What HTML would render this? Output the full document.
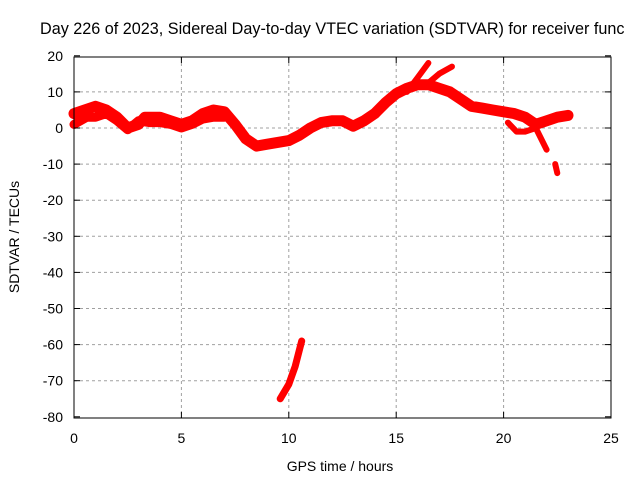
<!DOCTYPE html>
<html><head><meta charset="utf-8"><style>
html,body{margin:0;padding:0;background:#fff;overflow:hidden}
svg{display:block;font-family:"Liberation Sans",sans-serif}
</style></head><body>
<svg id="c" width="640" height="480">
<text x="40" y="34" font-size="16.2">Day 226 of 2023, Sidereal Day-to-day VTEC variation (SDTVAR) for receiver func</text>
<g id="grid"></g>
<g id="marks"></g>
<rect x="74" y="57" width="537" height="361" fill="none" stroke="#000"/>
<g id="ticks"></g>
<text x="340" y="471" font-size="14" text-anchor="middle">GPS time / hours</text>
<text transform="translate(19,237) rotate(-90)" font-size="14" text-anchor="middle">SDTVAR / TECUs</text>
</svg>
<script>
const xTicks=[0,5,10,15,20,25];
const yTicks=[20,10,0,-10,-20,-30,-40,-50,-60,-70,-80];
const upperX=[0,0.5,1,1.5,2,2.5,3,3.3,4,4.5,5,5.5,6,6.5,7,7.5,8,8.5,9,10,10.5,11,11.5,12,12.5,13,13.5,14,14.5,15,15.5,16,16.5,17,17.5,18,18.5,19,19.5,20,20.5,21,21.5,22,22.5,23];
const upperY=[4,5,6,5,3,0,1,3,3,2,1,2,4,5,4.5,1,-3,-5,-4.5,-3.5,-2,0,1.5,2,2,0.5,2,4,7,9.5,11,12,12,11,10,8,6,5.5,5,4.5,4,3,1,2,3,3.5];
const lowerX=[0,0.3,0.6,1,1.5,2,2.5,3,3.5,4,4.5,5,5.5,6,6.5,7];
const lowerY=[1,2,3,3,4,2,-0.5,2,1.5,1.5,1,0,1,2.5,3,3];
const branch1X=[15.5,16,16.5];
const branch1Y=[10,14,18];
const branch2X=[16.4,17,17.6];
const branch2Y=[12,15,17];
const branch3X=[20.2,20.6,21,21.5,22];
const branch3Y=[1.5,-1,-1,0,-6];
const branch4X=[22.4,22.5];
const branch4Y=[-10,-12.5];
const dipX=[9.6,10,10.3,10.6];
const dipY=[-75,-71,-66,-59];
const X=v=>74+v*(537/25), Y=v=>128-v*3.61;
const NS="http://www.w3.org/2000/svg";
const grid=document.getElementById('grid'),ticks=document.getElementById('ticks'),marks=document.getElementById('marks');
function mk(t,a,p){const e=document.createElementNS(NS,t);for(const k in a)e.setAttribute(k,a[k]);p.appendChild(e);return e;}
xTicks.forEach(v=>{const x=X(v);
 if(v>0&&v<25){const g=mk('line',{x1:x,x2:x,y1:57,y2:418,stroke:'#a0a0a0','stroke-dasharray':'3,3'},grid);
 
 }
 mk('line',{x1:x,x2:x,y1:418,y2:412,stroke:'#000'},ticks);mk('line',{x1:x,x2:x,y1:57,y2:63,stroke:'#000'},ticks);
 const t=mk('text',{x:x,y:443,'font-size':14,'text-anchor':'middle'},ticks);t.textContent=v;
 
 });
yTicks.forEach(v=>{const y=Y(v);
 if(v<20&&v>-80){const g=mk('line',{x1:74,x2:611,y1:y,y2:y,stroke:'#a0a0a0','stroke-dasharray':'3,3'},grid);
 
 }
 mk('line',{x1:74,x2:80,y1:y,y2:y,stroke:'#000'},ticks);mk('line',{x1:611,x2:605,y1:y,y2:y,stroke:'#000'},ticks);
 const t=mk('text',{x:63,y:y+5,'font-size':14,'text-anchor':'end'},ticks);t.textContent=v;
 
 });
function series(xs,ys,name,w){const d=xs.map((v,i)=>(i?'L':'M')+X(v).toFixed(1)+','+Y(ys[i]).toFixed(1)).join('');
 const p=mk('path',{d:d,fill:'none',stroke:'#ff0000','stroke-width':w,'stroke-linejoin':'round','stroke-linecap':'round'},marks);
 
 }
series(upperX,upperY,'sdtvar-upper-band',11);
series(lowerX,lowerY,'sdtvar-lower-band',9);
series(branch1X,branch1Y,'sdtvar-branch-1',6);
series(branch2X,branch2Y,'sdtvar-branch-2',6);
series(branch3X,branch3Y,'sdtvar-branch-3',6);
series(branch4X,branch4Y,'sdtvar-branch-4',6);
series(dipX,dipY,'sdtvar-dip',7);
</script>
</body></html>
